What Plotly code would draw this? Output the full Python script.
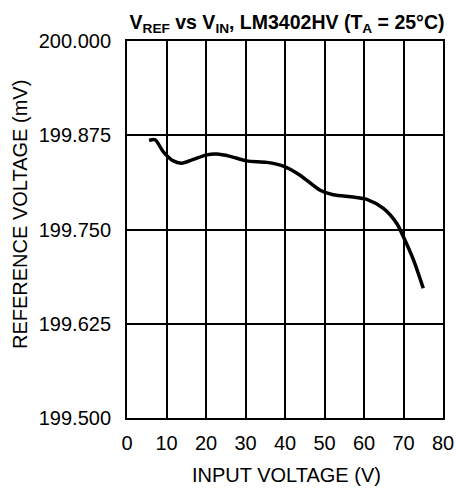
import plotly.graph_objects as go

vin = [5.6, 7.1, 9.2, 11.7, 13.8, 16.8, 20.2, 22.7, 26.1, 30.3, 35.4, 39.6, 43.8, 48.9, 52.2, 57.3, 60.7, 64.9, 68.3, 70.0, 72.5, 75.0]
vref = [199.868, 199.869, 199.853, 199.841, 199.838, 199.843, 199.849, 199.850, 199.847, 199.841, 199.839, 199.834,
        199.822, 199.802, 199.796, 199.793, 199.790, 199.778, 199.758, 199.740, 199.710, 199.672]
x_ticks = [0, 10, 20, 30, 40, 50, 60, 70, 80]
y_ticks = [199.5, 199.625, 199.75, 199.875, 200.0]
y_labels = ["199.500", "199.625", "199.750", "199.875", "200.000"]

FAM = "Liberation Sans, Arial, sans-serif"
tick_font = dict(family=FAM, size=20, color="black")
label_font = dict(family=FAM, size=20, color="black")

fig = go.Figure()
fig.add_trace(go.Scatter(x=vin, y=vref, mode="lines",
                         line=dict(color="black", width=3.5, shape="spline", smoothing=0.8),
                         hoverinfo="skip"))

fig.update_layout(
    width=456, height=489,
    margin=dict(l=127, r=13, t=41, b=71, autoexpand=False),
    paper_bgcolor="white", plot_bgcolor="white",
    showlegend=False,
    font=tick_font,
    title=dict(text="<b>V<sub>REF</sub> vs V<sub>IN</sub>, LM3402HV (T<sub>A</sub> = 25°C)</b>",
               x=(287 / 456), xanchor="center", xref="container",
               y=1 - 22 / 489, yanchor="middle", yref="container",
               font=dict(family=FAM, size=19.5, color="black")),
    annotations=[
        dict(text="REFERENCE VOLTAGE (mV)", textangle=-90, xref="paper", yref="paper",
             x=(20 - 127) / 316, y=(418 - 215) / 377, xanchor="center", yanchor="middle",
             showarrow=False, font=label_font),
        dict(text="INPUT VOLTAGE (V)", xref="paper", yref="paper",
             x=(286 - 127) / 316, y=(418 - 475) / 377, xanchor="center", yanchor="middle",
             showarrow=False, font=label_font),
    ],
)
fig.update_xaxes(range=[0, 80], tickvals=x_ticks, ticktext=[str(v) for v in x_ticks],
                 showgrid=True, gridcolor="black", gridwidth=1.5,
                 showline=True, linecolor="black", linewidth=2, mirror=True,
                 zeroline=False, ticks="", ticklen=0, automargin=False,
                 ticklabelstandoff=6, tickfont=tick_font)
fig.update_yaxes(range=[199.5, 200.0], tickvals=y_ticks, ticktext=y_labels,
                 showgrid=True, gridcolor="black", gridwidth=1.5,
                 showline=True, linecolor="black", linewidth=2, mirror=True,
                 zeroline=False, ticks="", ticklen=0, automargin=False,
                 ticklabelstandoff=10, tickfont=tick_font)

fig.write_html("out.html", config={"displayModeBar": False},
               post_script="document.body.style.margin='0px';document.body.style.overflow='hidden';")
